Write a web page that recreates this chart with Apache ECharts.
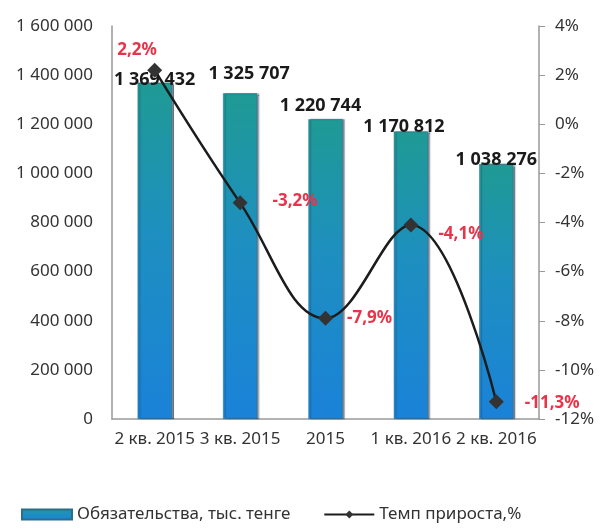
<!DOCTYPE html>
<html>
<head>
<meta charset="utf-8">
<script src="https://cdn.jsdelivr.net/npm/echarts@6/dist/echarts.min.js"></script>
<style>
  html, body { margin: 0; padding: 0; background: #fff; }
  #chart { width: 601px; height: 528px; }
</style>
</head>
<body>
<div id="chart"></div>
<script>
// данные
const categories = ['2 кв. 2015', '3 кв. 2015', '2015', '1 кв. 2016', '2 кв. 2016'];
const liabilities = [1369432, 1325707, 1220744, 1170812, 1038276];
const growthRate = [2.2, -3.2, -7.9, -4.1, -11.3];

// ручные сдвиги подписей (как в исходной диаграмме)
const barLabelShift = [[0, 11], [9, -5], [-5, 1], [-7, 9], [0, 10]];
const lineLabelShift = [[-50, -20], [20, -2], [9, 0], [15, 9], [16, 1]];

const fmtSpace = v => String(v).replace(/\B(?=(\d{3})+(?!\d))/g, ' ');
const fmtPct = v => String(v).replace('.', ',') + '%';

const font = 'Noto Sans';
const chart = echarts.init(document.getElementById('chart'));

chart.setOption({
  animation: false,
  textStyle: { fontFamily: font },
  grid: { left: 112, right: 62, top: 26, bottom: 109 },
  legend: {
    bottom: 0,
    left: 16,
    itemWidth: 50,
    itemHeight: 10,
    itemGap: 33,
    textStyle: { fontSize: 17, color: '#333' },
    data: [
      { name: 'Обязательства, тыс. тенге', icon: 'rect' },
      { name: 'Темп прироста,%' }
    ]
  },
  xAxis: {
    type: 'category',
    data: categories,
    axisLine: { lineStyle: { color: '#999', width: 1.5 } },
    axisTick: { show: false },
    axisLabel: { interval: 0, fontSize: 17, color: '#333', margin: 12 }
  },
  yAxis: [
    {
      type: 'value',
      min: 0,
      max: 1600000,
      interval: 200000,
      splitLine: { show: false },
      axisLine: { show: true, lineStyle: { color: '#999', width: 1.5 } },
      axisTick: { show: false },
      axisLabel: { fontSize: 17, color: '#333', margin: 19, formatter: fmtSpace }
    },
    {
      type: 'value',
      min: -12,
      max: 4,
      interval: 2,
      position: 'right',
      splitLine: { show: false },
      axisLine: { show: true, lineStyle: { color: '#999', width: 1.5 } },
      axisTick: { show: true, length: 6, lineStyle: { color: '#999' } },
      axisLabel: { fontSize: 17, color: '#333', margin: 16, formatter: v => v + '%' }
    }
  ],
  series: [
    {
      name: 'Обязательства, тыс. тенге',
      type: 'bar',
      barWidth: '40%',
      data: liabilities.map((v, i) => ({
        value: v,
        label: { offset: barLabelShift[i] }
      })),
      itemStyle: {
        color: new echarts.graphic.LinearGradient(0, 0, 0, 1, [
          { offset: 0, color: '#1f9a94' },
          { offset: 0.45, color: '#1e8fc0' },
          { offset: 1, color: '#1a82d8' }
        ]),
        borderColor: '#2a6f8a',
        borderWidth: 0.5,
        shadowColor: 'rgba(20, 40, 60, 0.55)',
        shadowBlur: 1,
        shadowOffsetX: 2
      },
      label: {
        show: true,
        position: 'top',
        distance: 5,
        fontSize: 18,
        fontWeight: 'bold',
        color: '#1a1a1a',
        formatter: p => fmtSpace(p.value)
      }
    },
    {
      name: 'Темп прироста,%',
      type: 'line',
      yAxisIndex: 1,
      smooth: 0.4,
      symbol: 'diamond',
      symbolSize: 15,
      data: growthRate.map((v, i) => ({
        value: v,
        label: { offset: lineLabelShift[i] }
      })),
      lineStyle: { color: '#1c1c1c', width: 2.5 },
      itemStyle: { color: '#333' },
      label: {
        show: true,
        position: 'right',
        distance: 5,
        fontSize: 17,
        fontWeight: 'bold',
        color: '#e8334a',
        formatter: p => fmtPct(p.value)
      },
      z: 5
    }
  ]
});
</script>
</body>
</html>
